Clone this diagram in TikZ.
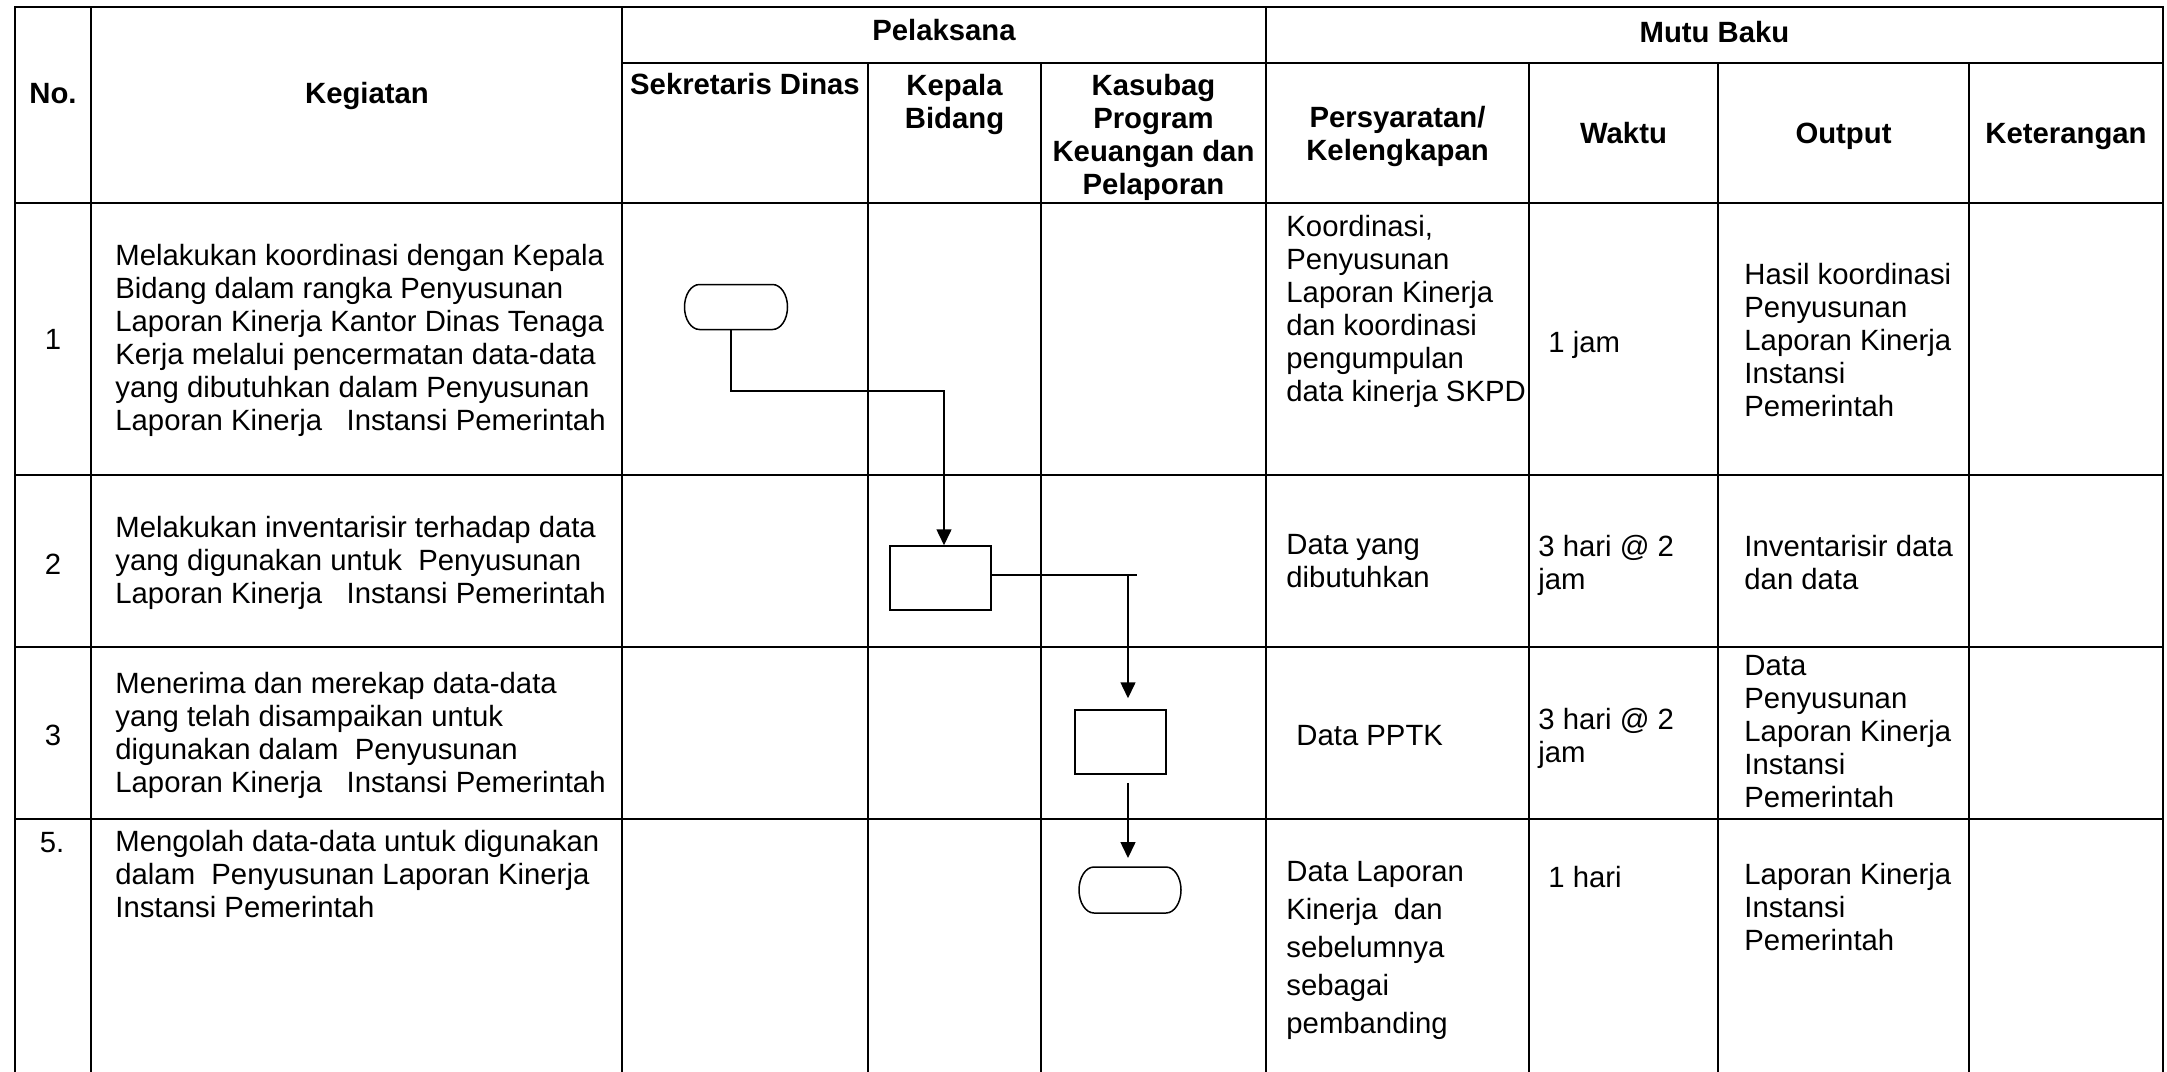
\documentclass[tikz,border=0pt]{standalone}
\usepackage{fontspec}
\setmainfont{Liberation Sans}
\usetikzlibrary{arrows.meta}
\newcommand\termoutline[2]{%
  \draw[flow] ([xshift=7.5pt]#1.north west) -- ([xshift=-7.5pt]#1.north east)
    arc[start angle=90, end angle=-90, x radius=7.5pt, y radius=#2]
    -- ([xshift=7.5pt]#1.south west)
    arc[start angle=270, end angle=90, x radius=7.5pt, y radius=#2] -- cycle;}
\begin{document}
\tikzset{
  grid/.style={line width=1pt, line cap=rect},
  flow/.style={line width=0.75pt},
  arr/.style={flow, -{Triangle[length=8pt,width=7.5pt]}},
  termbox/.style={inner sep=0pt, outer sep=0pt},
  procbox/.style={draw, line width=0.75pt, inner sep=0pt},
  txt/.style={inner sep=0pt, font=\fontsize{14.65pt}{16.5pt}\selectfont, execute at begin node=\strut},
  tl/.style={txt, align=left, anchor=north west},
  tc/.style={txt, align=center, anchor=north},
  hd/.style={tc, font=\fontsize{14.65pt}{16.5pt}\selectfont\bfseries},
}
\begin{tikzpicture}[x=0.5pt, y=-0.5pt]
\useasboundingbox[fill=white] (0,0) rectangle (2167,1071);
% table grid
\draw[grid] (15,1071) -- (15,7) -- (2163,7) -- (2163,1071);
\foreach \x in {91,622,1266} \draw[grid] (\x,7) -- (\x,1071);
\foreach \x in {868,1041,1529,1718,1969} \draw[grid] (\x,63) -- (\x,1071);
\draw[grid] (622,63) -- (2163,63);
\foreach \y in {203,475,647,819} \draw[grid] (15,\y) -- (2163,\y);
% header
\node[hd] (hno) at (53,80.4) {No.};
\node[hd] (hkeg) at (367,80.4) {Kegiatan};
\node[hd] (hpel) at (944,17.4) {Pelaksana};
\node[hd] (hmutu) at (1714.5,19.4) {Mutu Baku};
\node[hd] (hsek) at (745,71) {Sekretaris Dinas};
\node[hd] (hkep) at (954.5,73.4) {Kepala\\Bidang};
\node[hd] (hkas) at (1153.5,73.4) {Kasubag\\Program\\Keuangan dan\\Pelaporan};
\node[hd] (hsyar) at (1397.5,105.9) {Persyaratan/\\Kelengkapan};
\node[hd] (hwak) at (1623.5,120.4) {Waktu};
\node[hd] (hout) at (1843.5,120.4) {Output};
\node[hd] (hket) at (2066,120.4) {Keterangan};
% numbers and activities
\node[tc] (n1) at (53,326.4) {1};
\node[tl] (a1) at (115,243.9) {Melakukan koordinasi dengan Kepala\\Bidang dalam rangka Penyusunan\\Laporan Kinerja Kantor Dinas Tenaga\\Kerja melalui pencermatan data-data\\yang dibutuhkan dalam Penyusunan\\Laporan Kinerja\ \ \ Instansi Pemerintah};
\node[tc] (n2) at (53,551.4) {2};
\node[tl] (a2) at (115,515.4) {Melakukan inventarisir terhadap data\\yang digunakan untuk\ \ Penyusunan\\Laporan Kinerja\ \ \ Instansi Pemerintah};
\node[tc] (n3) at (53,722.4) {3};
\node[tl] (a3) at (115,671.4) {Menerima dan merekap data-data\\yang telah disampaikan untuk\\digunakan dalam\ \ Penyusunan\\Laporan Kinerja\ \ \ Instansi Pemerintah};
\node[tc] (n5) at (52,829.4) {5.};
\node[tl] (a5) at (115,829.4) {Mengolah data-data untuk digunakan\\dalam\ \ Penyusunan Laporan Kinerja\\Instansi Pemerintah};
% persyaratan
\node[tl] (p1) at (1286,214.4) {Koordinasi,\\Penyusunan\\Laporan Kinerja\\dan koordinasi\\pengumpulan\\data kinerja SKPD};
\node[tl] (p2) at (1286,534.4) {Data yang\\dibutuhkan};
\node[tl] (p3) at (1296,722.4) {Data PPTK};
\node[tl, font=\fontsize{14.65pt}{19pt}\selectfont] (p5) at (1286,860.9) {Data Laporan\\Kinerja\ \ dan\\sebelumnya\\sebagai\\pembanding};
% waktu
\node[tl] (w1) at (1548,329.4) {1 jam};
\node[tl] (w2) at (1538,534.4) {3 hari @ 2\\jam};
\node[tl] (w3) at (1538,707.4) {3 hari @ 2\\jam};
\node[tl] (w5) at (1548,864.4) {1 hari};
% output
\node[tl] (o1) at (1744,262.4) {Hasil koordinasi\\Penyusunan\\Laporan Kinerja\\Instansi\\Pemerintah};
\node[tl] (o2) at (1744,534.4) {Inventarisir data\\dan data};
\node[tl] (o3) at (1744,655.4) {Data\\Penyusunan\\Laporan Kinerja\\Instansi\\Pemerintah};
\node[tl] (o5) at (1744,862.4) {Laporan Kinerja\\Instansi\\Pemerintah};
% flow shapes
\node[termbox, minimum width=51.5pt, minimum height=22.5pt] (t1) at (736,307) {};
\termoutline{t1}{11.25pt}
\node[procbox, minimum width=50.5pt, minimum height=32pt] (b2) at (940.5,578) {};
\node[procbox, minimum width=45.5pt, minimum height=32pt] (b3) at (1120.5,742) {};
\node[termbox, minimum width=51pt, minimum height=23pt] (t4) at (1130,890) {};
\termoutline{t4}{11.5pt}
% connectors
\coordinate (j1) at (731,391);
\coordinate (j2) at (944,391);
\draw[arr] (j1 |- t1.south) -- (j1) -- (j2) -- (j2 |- b2.north);
\coordinate (j3) at (1128,575);
\coordinate (j4) at (1137,575);
\draw[flow] (b2.east |- j3) -- (j4);
\draw[arr, shorten >=5.5pt] (j3) -- (j3 |- b3.north);
\draw[arr, shorten <=4pt, shorten >=4.5pt] (b3.south -| j3) -- (t4.north -| j3);
\end{tikzpicture}
\end{document}
